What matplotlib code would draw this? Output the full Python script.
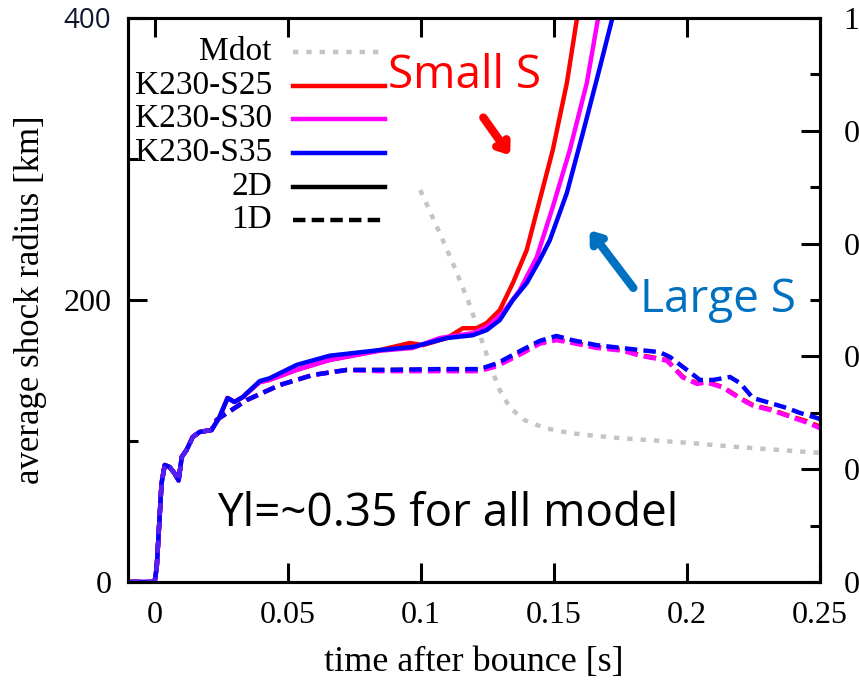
#!/bin/env python
# average shock radius vs time after bounce for the K230 models (2D solid, 1D dashed)
# plus the Mdot curve on the right-hand axis

import matplotlib
matplotlib.use('Agg')
import matplotlib.pyplot as plt

# ---- data ----
# early phase, same for every model (2D and 1D)
t_early = [-0.01, 0.0, 0.0008, 0.0026, 0.0038, 0.0056, 0.0075, 0.009, 0.0102,
           0.012, 0.0143, 0.0169, 0.0214]
r_early = [0, 0, 10.6, 70, 83, 81.6, 77, 72, 88.7, 93.6, 102.8, 106.4, 107.8]

# 2D runs (solid)
t_2d_s25 = [0.0244, 0.0274, 0.030, 0.033, 0.0395, 0.0432, 0.0534, 0.0658, 0.0846,
            0.0959, 0.1008, 0.1098, 0.1158, 0.121, 0.1248, 0.1297, 0.1346, 0.1398,
            0.1447, 0.1496, 0.1549, 0.1586, 0.161]
r_2d_s25 = [117, 130.5, 127.7, 131, 141.8, 143.3, 150.5, 157.5, 164.5,
            169.5, 168, 173, 180, 180, 183.7, 192.9, 212, 235.4,
            270.9, 306.4, 354, 398.6, 420]
t_2d_s30 = [0.0244, 0.0274, 0.030, 0.033, 0.0395, 0.0432, 0.0534, 0.0658, 0.0846,
            0.097, 0.1071, 0.1195, 0.1248, 0.1308, 0.1372, 0.1436, 0.1496, 0.156,
            0.1624, 0.1665, 0.169]
r_2d_s30 = [117, 130.5, 127.7, 131, 141.8, 143.3, 150.5, 157.5, 164,
            166, 173, 176.5, 180.8, 190.8, 207, 230.5, 266, 306.4,
            354, 398.6, 420]
t_2d_s35 = [0.0244, 0.0274, 0.030, 0.033, 0.0395, 0.0432, 0.0534, 0.0658, 0.0846,
            0.097, 0.1098, 0.1195, 0.1248, 0.1297, 0.1346, 0.1398, 0.1447, 0.1485,
            0.1549, 0.1609, 0.1673, 0.1718, 0.174]
r_2d_s35 = [117, 130.5, 127.7, 131, 142.5, 144.5, 154, 160.5, 164.5,
            166.7, 173, 175, 178.7, 185.8, 200, 212, 228.4, 242.5,
            276, 318.4, 365, 398.6, 415]

# 1D runs (dashed)
t_1d_s25 = [0.0233, 0.0346, 0.047, 0.0594, 0.0722, 0.0846, 0.107, 0.122, 0.1286,
            0.138, 0.1447, 0.151, 0.157, 0.166, 0.176, 0.1823, 0.1925, 0.1985,
            0.2038, 0.2075, 0.2135, 0.22, 0.2248, 0.2323, 0.2376, 0.2451, 0.2489, 0.25]
r_1d_s25 = [115, 129, 139.7, 146.8, 150.4, 150.4, 150.4, 150.4, 153.9,
            163, 169.5, 172, 170, 166.7, 164.5, 161, 157.4, 145.4,
            141, 141.8, 138.3, 130.5, 125.5, 122, 118.4, 114, 111, 110.5]
t_1d_s30 = [0.0233, 0.0346, 0.047, 0.0594, 0.0722, 0.0846, 0.107, 0.122, 0.1286,
            0.138, 0.1447, 0.151, 0.157, 0.166, 0.176, 0.1823, 0.1925, 0.1985,
            0.2038, 0.2075, 0.2135, 0.22, 0.2248, 0.2323, 0.2376, 0.2451, 0.2489, 0.25]
r_1d_s30 = [115, 129, 139.7, 146.8, 150.4, 149.5, 149.5, 149.5, 153,
            162, 169, 171.5, 169.5, 166, 164, 160.5, 157, 145,
            140.5, 141.5, 138, 130, 125, 121.5, 118, 113, 110, 109]
t_1d_s35 = [0.0233, 0.0346, 0.047, 0.0594, 0.0722, 0.0846, 0.107, 0.122, 0.1286,
            0.138, 0.1447, 0.151, 0.157, 0.166, 0.1823, 0.1898, 0.1936, 0.2,
            0.2049, 0.2098, 0.2162, 0.22, 0.2248, 0.2312, 0.2376, 0.2425, 0.2489, 0.25]
r_1d_s35 = [115, 129, 139.7, 146.8, 150.4, 150.4, 151, 151, 155,
            164.5, 171, 174.5, 171.5, 168, 164.5, 163, 159.6, 150.4,
            143.3, 143.3, 145.4, 141, 130.5, 127, 123.4, 119.9, 116.3, 115.5]

# Mdot on the right axis
t_mdot = [0.0998, 0.107, 0.1128, 0.1184, 0.1229, 0.1267, 0.1297, 0.1335, 0.139,
          0.1466, 0.156, 0.166, 0.175, 0.197, 0.22, 0.25]
v_mdot = [0.695, 0.62, 0.557, 0.491, 0.429, 0.376, 0.34, 0.309, 0.287,
          0.273, 0.264, 0.259, 0.255, 0.248, 0.239, 0.229]

x_ticks = [0, 0.05, 0.1, 0.15, 0.2, 0.25]
x_ticklabels = ['0', '0.05', '0.1', '0.15', '0.2', '0.25']
y_ticks = [0, 200, 400]
y2_ticks = [0, 0.2, 0.4, 0.6, 0.8, 1.0]
y2_ticklabels = ['0', '0.2', '0.4', '0.6', '0.8', '1']

legend_labels = ['Mdot', 'K230-S25', 'K230-S30', 'K230-S35', '2D', '1D']

RED = '#ff0000'
MAG = '#ff00ff'
BLUE = '#0000ff'
GREY = '#c4c4c4'
SKY = '#0070c0'
SERIF = 'Liberation Serif'
SANS = 'Open Sans'
DASH = (0, (2.8, 1.4))
DOT = (0, (1.2, 1.8))


def Plot_Shock(outFileName):
    fig = plt.figure(figsize=(8.59, 6.88), dpi=100)
    ax = fig.add_axes([128/859, 106/688, 692/859, 564/688])
    ax2 = ax.twinx()
    ax.set_zorder(ax2.get_zorder() + 1)
    ax.patch.set_visible(False)

    # Mdot, grey dotted
    ax2.plot(t_mdot, v_mdot, color=GREY, lw=3.2, linestyle=DOT, dash_capstyle='butt')

    lw = 3.2
    # 1D dashed
    for t, r, c in [(t_1d_s25, r_1d_s25, RED), (t_1d_s30, r_1d_s30, MAG),
                    (t_1d_s35, r_1d_s35, BLUE)]:
        ax.plot(t_early + t, r_early + r, color=c, lw=lw, linestyle=DASH)
    # 2D solid
    for t, r, c in [(t_2d_s25, r_2d_s25, RED), (t_2d_s30, r_2d_s30, MAG),
                    (t_2d_s35, r_2d_s35, BLUE)]:
        ax.plot(t_early + t, r_early + r, color=c, lw=lw)
    # the bounce spike shows up dashed in the picture
    ax.plot(t_early, r_early, color='#5020f0', lw=lw, linestyle=DASH)

    ax.set_xlim(-0.01, 0.25)
    ax.set_ylim(0, 400)
    ax2.set_ylim(0, 1)

    ax.set_xticks(x_ticks)
    ax.set_xticklabels(x_ticklabels)
    ax.set_yticks(y_ticks)
    ax.set_yticks([100, 300], minor=True)
    ax2.set_yticks(y2_ticks)
    ax2.set_yticklabels(y2_ticklabels)
    ax2.set_yticks([0.1, 0.3, 0.5, 0.7, 0.9], minor=True)

    for a in (ax, ax2):
        for s in a.spines.values():
            s.set_linewidth(2.2)
    ax.tick_params(axis='both', which='major', direction='in', length=13.5, width=2.2,
                   labelsize=23, top=True, right=False, pad=12)
    ax.tick_params(axis='x', pad=14)
    ax.tick_params(axis='y', which='minor', direction='in', length=7, width=2.2,
                   right=False)
    ax2.tick_params(axis='y', which='major', direction='in', length=13.5, width=2.2,
                    labelsize=23, pad=17)
    ax2.tick_params(axis='y', which='minor', direction='in', length=7, width=2.2)
    for lab in ax.get_xticklabels() + ax.get_yticklabels() + ax2.get_yticklabels():
        lab.set_family(SERIF)
    # the top label was retyped in a sans font on the original
    top_lab = ax.get_yticklabels()[-1]
    top_lab.set_family(SANS)
    top_lab.set_fontsize(20)
    top_lab.set_color('#101830')

    ax.set_xlabel('time after bounce [s]', family=SERIF, fontsize=26, labelpad=11)
    ax.set_ylabel('average shock radius [km]', family=SERIF, fontsize=25, labelpad=12)

    # key, text right-aligned, sample on the right
    styles = [dict(color=GREY, linestyle=DOT, dash_capstyle='butt'),
              dict(color=RED), dict(color=MAG), dict(color=BLUE),
              dict(color='black'), dict(color='black', linestyle=DASH)]
    for i, (lab, st) in enumerate(zip(legend_labels, styles)):
        yy = 0.94 - i * 0.0597
        ax.text(0.208, yy, lab, transform=ax.transAxes, ha='right', va='center',
                family=SERIF, fontsize=24)
        ax.plot([0.238, 0.371], [yy, yy], transform=ax.transAxes, lw=lw, **st)

    # annotations
    ax.text(0.0876, 359, 'Small S', color=RED, family=SANS, fontsize=33,
            ha='left', va='center')
    ax.text(0.1823, 200, 'Large S', color=SKY, family=SANS, fontsize=33,
            ha='left', va='center')
    ax.text(0.0233, 48, 'Yl=~0.35 for all model', color='black', family=SANS,
            fontsize=33, ha='left', va='center')
    ax.annotate('', xy=(0.1342, 301), xytext=(0.1229, 331),
                arrowprops=dict(arrowstyle='->, head_length=0.6, head_width=0.45',
                                color=RED, lw=6))
    ax.annotate('', xy=(0.1628, 251), xytext=(0.1805, 207),
                arrowprops=dict(arrowstyle='->, head_length=0.6, head_width=0.45',
                                color=SKY, lw=6))

    fig.savefig(outFileName, dpi=100)
    plt.close(fig)


if __name__ == '__main__':
    Plot_Shock('out.png')
